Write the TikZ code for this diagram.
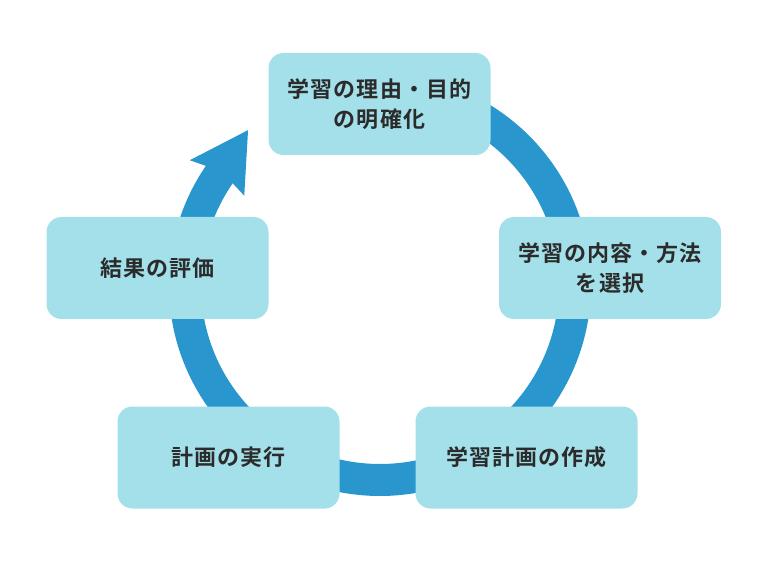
\documentclass[tikz,border=0pt]{standalone}
\usepackage{fontspec}
\setmainfont{Noto Sans CJK JP}[BoldFont={Noto Sans CJK JP Bold},LetterSpace=5]
\usetikzlibrary{arrows.meta}
\definecolor{ringblue}{HTML}{2996CE}
\definecolor{boxcyan}{HTML}{A3E0EA}
\definecolor{textgray}{HTML}{2B2B2B}

\begin{document}
\begin{tikzpicture}[x=1pt,y=1pt,
  stage/.style={fill=boxcyan,rounded corners=15pt,minimum width=222pt,minimum height=102pt,
    inner sep=0pt,align=center,text=textgray,font=\fontsize{22}{30}\selectfont\bfseries}]
\useasboundingbox (0,0) rectangle (768,576);
\coordinate (c) at (380,291);
\draw [ringblue,line width=32pt,-{Stealth[length=57pt,width=65pt,inset=8pt,line width=0pt]}]
  (c) ++(90:195pt) arc [start angle=90,end angle=-213,radius=195pt] -- ++(57:58pt);
\node [stage] (aim) at (379.5,472) {学習の理由・目的\\の明確化};
\node [stage] (choose) at (610,308) {学習の内容・方法\\を選択};
\node [stage] (plan) at (526.5,118.5) {学習計画の作成};
\node [stage] (run) at (228.5,118.5) {計画の実行};
\node [stage] (review) at (157.5,308) {結果の評価};
\end{tikzpicture}
\end{document}
